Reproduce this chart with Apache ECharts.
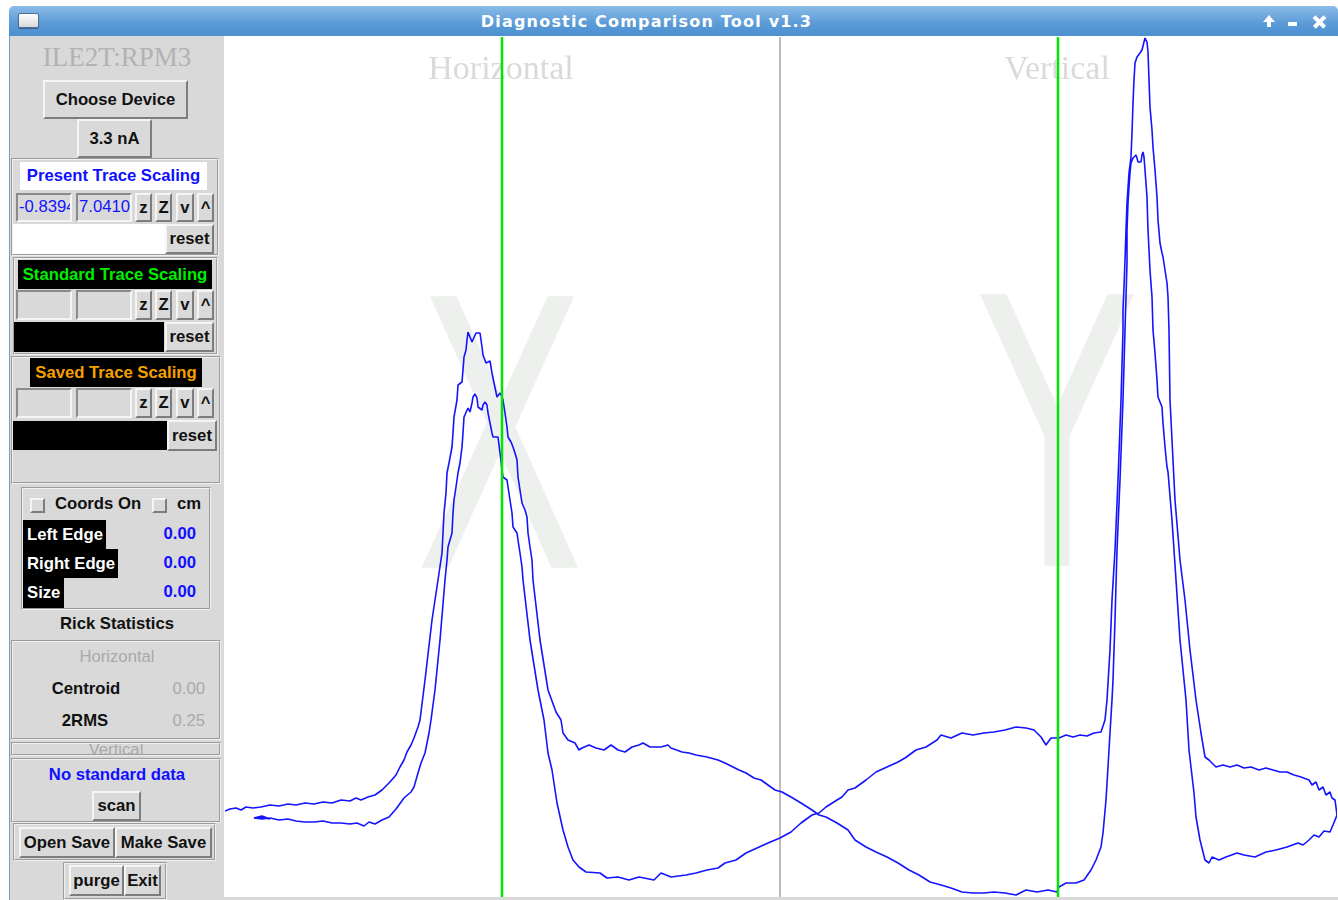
<!DOCTYPE html>
<html>
<head>
<meta charset="utf-8">
<title>Diagnostic Comparison Tool v1.3</title>
<script src="https://cdn.jsdelivr.net/npm/echarts@6/dist/echarts.min.js"></script>
<style>
  html, body { margin: 0; padding: 0; }
  body { width: 1338px; height: 900px; position: relative; overflow: hidden; background: #fff;
         font-family: "Liberation Sans", Arial, sans-serif; }
  div { box-sizing: border-box; }
  .abs, .b, .e, .t, .fr, .blk, .chk { position: absolute; }
  .titlebar { position: absolute; left: 9px; top: 6px; width: 1329px; height: 30px;
              background: linear-gradient(#8bbbe8, #5a9ad6 60%, #4c90d1); border-radius: 5px 5px 0 0; }
  .title { position: absolute; left: 9px; top: 6px; width: 1275px; height: 30px;
           text-align: center; color: #fff; font: bold 16px "DejaVu Sans", sans-serif; line-height: 32px;
           letter-spacing: 1.2px; }
  .panel { position: absolute; left: 10px; top: 36px; width: 214px; height: 864px; background: #d9d9d9; }
  .b { background: #d9d9d9; border: 2px solid; border-color: #f5f5f5 #7d7d7d #7d7d7d #f5f5f5;
       display: flex; align-items: center; justify-content: center;
       font-weight: bold; font-size: 16.7px; color: #111; white-space: nowrap; }
  .e { background: #d9d9d9; border: 2px solid; border-color: #8a8a8a #f5f5f5 #f5f5f5 #8a8a8a;
       overflow: hidden; white-space: nowrap; font-size: 16.7px; color: #1414ff; padding-left: 1px;
       line-height: 24px; }
  .t { display: flex; align-items: center; justify-content: center; font-weight: bold; font-size: 16.7px;
       color: #111; white-space: nowrap; }
  .fr { border: 2px groove #f0f0f0; }
  .blk { background: #000; }
  .chk { background: #d9d9d9; border: 2px solid; border-color: #f5f5f5 #7d7d7d #7d7d7d #f5f5f5; }
  #plot { position: absolute; left: 225px; top: 37px; width: 1112px; height: 860px; background: #fff; }
</style>
</head>
<body>
<div class="titlebar"></div>
<div class="title">Diagnostic Comparison Tool v1.3</div>
<div class="abs" style="left:18px;top:13px;width:21px;height:15px;border-radius:2px;border:1px solid #4f6f95;background:linear-gradient(#ffffff,#d8d8d8);box-shadow:0 1px 1px rgba(0,0,0,0.35)"></div>
<!-- window buttons -->
<div class="abs" style="left:1263px;top:15px;width:0;height:0;border-left:6px solid transparent;border-right:6px solid transparent;border-bottom:7px solid #fff"></div>
<div class="abs" style="left:1267px;top:21px;width:4px;height:6px;background:#fff"></div>
<div class="abs" style="left:1288px;top:22px;width:9px;height:4px;background:#fff"></div>
<div class="abs" style="left:1312px;top:20px;width:15px;height:3.5px;background:#fff;transform:rotate(45deg)"></div>
<div class="abs" style="left:1312px;top:20px;width:15px;height:3.5px;background:#fff;transform:rotate(-45deg)"></div>
<div class="abs" style="left:9px;top:36px;width:2px;height:864px;background:#6aa0d8"></div>

<div class="panel"></div>
<div class="t" style="left:10px;top:44px;width:214px;height:26px;font:27px 'Liberation Serif',serif;color:#b2b2b2">ILE2T:RPM3</div>
<div class="b" style="left:43px;top:80px;width:145px;height:39px">Choose Device</div>
<div class="b" style="left:77px;top:119px;width:75px;height:39px">3.3 nA</div>

<!-- present trace scaling -->
<div class="fr" style="left:11px;top:158px;width:208px;height:98px"></div>
<div class="t" style="left:20px;top:162px;width:187px;height:28px;background:#fff;color:#1010ff">Present Trace Scaling</div>
<div class="e" style="left:16px;top:193px;width:56px;height:29px">-0.8394</div>
<div class="e" style="left:76px;top:193px;width:56px;height:29px">7.04100</div>
<div class="b" style="left:135px;top:193px;width:17px;height:29px">z</div>
<div class="b" style="left:155px;top:193px;width:17px;height:29px">Z</div>
<div class="b" style="left:176px;top:193px;width:18px;height:29px">v</div>
<div class="b" style="left:197px;top:193px;width:17px;height:29px">^</div>
<div class="abs" style="left:13px;top:224px;width:152px;height:30px;background:#fff"></div>
<div class="b" style="left:165px;top:224px;width:49px;height:30px">reset</div>

<!-- standard trace scaling -->
<div class="fr" style="left:13px;top:257px;width:205px;height:98px"></div>
<div class="t" style="left:18px;top:260px;width:194px;height:29px;background:#000;color:#00ee00">Standard Trace Scaling</div>
<div class="e" style="left:16px;top:290px;width:56px;height:30px"></div>
<div class="e" style="left:76px;top:290px;width:56px;height:30px"></div>
<div class="b" style="left:135px;top:290px;width:17px;height:30px">z</div>
<div class="b" style="left:155px;top:290px;width:17px;height:30px">Z</div>
<div class="b" style="left:176px;top:290px;width:18px;height:30px">v</div>
<div class="b" style="left:197px;top:290px;width:17px;height:30px">^</div>
<div class="blk" style="left:14px;top:322px;width:150px;height:30px"></div>
<div class="b" style="left:165px;top:322px;width:49px;height:30px">reset</div>

<!-- saved trace scaling -->
<div class="fr" style="left:11px;top:356px;width:210px;height:128px"></div>
<div class="t" style="left:30px;top:358px;width:172px;height:29px;background:#000;color:#f5a000">Saved Trace Scaling</div>
<div class="e" style="left:16px;top:388px;width:56px;height:30px"></div>
<div class="e" style="left:76px;top:388px;width:56px;height:30px"></div>
<div class="b" style="left:135px;top:388px;width:17px;height:30px">z</div>
<div class="b" style="left:155px;top:388px;width:17px;height:30px">Z</div>
<div class="b" style="left:176px;top:388px;width:18px;height:30px">v</div>
<div class="b" style="left:197px;top:388px;width:17px;height:30px">^</div>
<div class="blk" style="left:13px;top:421px;width:154px;height:29px"></div>
<div class="b" style="left:167px;top:420px;width:50px;height:31px">reset</div>

<!-- coords -->
<div class="fr" style="left:21px;top:487px;width:190px;height:123px"></div>
<div class="chk" style="left:30px;top:498px;width:15px;height:15px"></div>
<div class="t" style="left:52px;top:492px;width:92px;height:24px">Coords On</div>
<div class="chk" style="left:152px;top:498px;width:15px;height:15px"></div>
<div class="t" style="left:174px;top:492px;width:30px;height:24px">cm</div>
<div class="t" style="left:23px;top:520px;width:83px;height:29px;background:#000;color:#fff;justify-content:flex-start;padding-left:4px">Left Edge</div>
<div class="t" style="left:23px;top:549px;width:95px;height:29px;background:#000;color:#fff;justify-content:flex-start;padding-left:4px">Right Edge</div>
<div class="t" style="left:23px;top:578px;width:41px;height:30px;background:#000;color:#fff;justify-content:flex-start;padding-left:4px">Size</div>
<div class="t" style="left:150px;top:522px;width:46px;height:24px;color:#1010ff;justify-content:flex-end">0.00</div>
<div class="t" style="left:150px;top:551px;width:46px;height:24px;color:#1010ff;justify-content:flex-end">0.00</div>
<div class="t" style="left:150px;top:580px;width:46px;height:24px;color:#1010ff;justify-content:flex-end">0.00</div>
<div class="t" style="left:10px;top:612px;width:214px;height:24px">Rick Statistics</div>

<!-- statistics -->
<div class="fr" style="left:11px;top:640px;width:210px;height:100px"></div>
<div class="t" style="left:10px;top:645px;width:214px;height:24px;font-weight:normal;color:#a9a9a9">Horizontal</div>
<div class="t" style="left:46px;top:677px;width:80px;height:24px">Centroid</div>
<div class="t" style="left:165px;top:677px;width:40px;height:24px;font-weight:normal;color:#a9a9a9;justify-content:flex-end">0.00</div>
<div class="t" style="left:46px;top:709px;width:78px;height:24px">2RMS</div>
<div class="t" style="left:165px;top:709px;width:40px;height:24px;font-weight:normal;color:#a9a9a9;justify-content:flex-end">0.25</div>
<div class="fr" style="left:11px;top:742px;width:210px;height:14px;overflow:hidden">
  <div style="position:absolute;left:0;top:-4px;width:206px;text-align:center;font-size:16.7px;color:#a9a9a9">Vertical</div>
</div>

<!-- standard data -->
<div class="fr" style="left:11px;top:758px;width:210px;height:65px"></div>
<div class="t" style="left:10px;top:763px;width:214px;height:24px;color:#1010ff">No standard data</div>
<div class="b" style="left:92px;top:791px;width:49px;height:30px">scan</div>
<div class="fr" style="left:13px;top:823px;width:203px;height:38px"></div>
<div class="b" style="left:19px;top:827px;width:96px;height:31px">Open Save</div>
<div class="b" style="left:115px;top:827px;width:97px;height:31px">Make Save</div>
<div class="fr" style="left:63px;top:862px;width:104px;height:38px"></div>
<div class="b" style="left:69px;top:865px;width:55px;height:31px">purge</div>
<div class="b" style="left:124px;top:865px;width:37px;height:31px">Exit</div>

<div class="abs" style="left:224px;top:897px;width:1114px;height:3px;background:#d9d9d9"></div>
<div id="plot"></div>

<script>
// scan trace, one continuous pass: position (x) vs signal (y)
// horizontal wire, outer baseline rising into the tall X peak
const hBaseA = [[0.0,0.86],[0.5,0.88],[1.1,0.89],[1.6,0.87],[2.1,0.90],[2.8,0.89],[3.6,0.90],[4.5,0.92],[5.4,0.91],[6.3,0.93],[7.1,0.92],[8.0,0.94],[8.9,0.93],[9.8,0.95],[10.7,0.94],[11.6,0.97],[12.5,0.96],[13.1,0.99],[13.6,0.97],[14.3,1.00],[15.0,1.02],[15.7,1.07],[16.4,1.14],[17.1,1.22],[17.5,1.30],[17.9,1.37],[18.2,1.45],[18.6,1.52],[18.9,1.59],[19.3,1.70],[19.5,1.77]];
const hPeakA = [[20.0,2.17],[20.7,2.77],[21.3,3.17],[21.7,3.44],[21.8,3.64],[21.9,3.84],[22.1,4.04],[22.2,4.24],[22.4,4.34],[22.7,4.50],[22.8,4.64],[22.9,4.80],[23.2,4.97],[23.3,5.12],[23.7,5.15],[23.8,5.27],[23.9,5.40],[24.1,5.47],[24.2,5.57],[24.3,5.65],[24.5,5.64],[24.7,5.55],[24.8,5.57],[25.1,5.64],[25.3,5.66],[25.5,5.64],[25.7,5.50],[25.8,5.42],[26.1,5.34],[26.3,5.35],[26.5,5.36],[26.7,5.24],[26.9,5.14],[27.2,5.00],[27.3,5.02],[27.5,5.04],[27.7,5.00],[27.8,4.97],[28.0,4.84],[28.2,4.70],[28.3,4.60],[28.6,4.55],[28.8,4.50],[29.0,4.44],[29.2,4.37],[29.3,4.20],[29.5,4.07],[29.7,3.94],[30.0,3.87],[30.2,3.80],[30.3,3.64],[30.5,3.50],[30.7,3.37],[30.8,3.17],[31.5,2.57],[32.3,2.07],[33.1,1.85],[33.6,1.77],[33.8,1.64],[34.3,1.57]];
const midA = [[35.0,1.54],[35.4,1.47],[35.7,1.49],[36.4,1.52],[37.1,1.49],[37.9,1.47],[38.6,1.52],[39.3,1.47],[40.0,1.45],[40.7,1.50],[41.4,1.52],[41.8,1.54],[42.5,1.50],[43.6,1.50],[44.3,1.52],[44.6,1.49],[45.7,1.45],[46.4,1.44],[47.1,1.42],[48.2,1.40],[49.3,1.37],[50.0,1.34],[51.4,1.27],[52.1,1.24],[52.9,1.19],[53.6,1.17],[54.3,1.12],[55.0,1.07],[55.7,1.05],[56.6,1.00],[57.6,0.94],[58.7,0.87],[59.4,0.82],[60.1,0.80],[61.2,0.74],[62.3,0.67],[63.0,0.57],[64.1,0.50],[65.1,0.45],[66.2,0.40],[67.3,0.34],[68.4,0.27],[69.4,0.22],[70.5,0.15],[71.6,0.12],[72.6,0.09],[73.7,0.05],[74.8,0.04],[75.9,0.04],[76.9,0.05],[78.0,0.04],[79.1,0.02],[80.1,0.07],[81.2,0.05],[82.3,0.07],[83.2,0.05],[83.4,0.10],[84.1,0.14],[85.1,0.14],[85.9,0.17],[86.6,0.27],[87.1,0.37],[87.6,0.50],[87.8,0.64],[88.1,0.97],[88.3,1.30],[88.5,1.64],[88.7,1.97]];
// vertical wire, short Y peak
const vPeakA = [[88.8,2.17],[89.0,2.77],[89.2,3.47],[89.5,4.17],[89.8,4.97],[90.0,5.67],[90.1,6.00],[90.2,6.34],[90.2,6.67],[90.3,6.94],[90.4,7.10],[90.5,7.24],[90.6,7.34],[90.8,7.39],[90.9,7.40],[91.1,7.42],[91.2,7.39],[91.3,7.35],[91.4,7.34],[91.6,7.35],[91.7,7.42],[91.8,7.45],[91.9,7.40],[92.0,7.27],[92.2,7.00],[92.3,6.67],[92.5,6.27],[92.7,6.00],[92.8,5.67],[93.0,5.44],[93.2,5.17],[93.3,5.00],[93.7,4.90],[93.8,4.74],[94.0,4.50],[94.2,4.30],[94.3,4.25],[94.7,3.77],[95.1,3.17],[95.5,2.57],[96.1,1.97],[96.4,1.47],[96.9,1.04],[97.1,0.80],[97.5,0.57],[98.0,0.37]];
// turn-around at the end of travel
const endLoop = [[98.4,0.34],[98.7,0.40],[99.4,0.37],[100.1,0.40],[101.2,0.44],[101.9,0.42],[103.0,0.40],[104.1,0.45],[105.1,0.47],[106.2,0.50],[107.3,0.54],[107.8,0.52],[108.4,0.57],[108.9,0.62],[109.4,0.60],[109.9,0.66],[110.5,0.65],[110.8,0.72],[111.0,0.70],[111.2,0.82],[111.0,0.97],[110.7,0.99],[110.5,1.05],[110.1,1.02],[109.8,1.10],[109.4,1.07],[109.1,1.15],[108.7,1.12],[108.4,1.17],[107.6,1.20],[106.9,1.22],[106.2,1.25],[105.5,1.25],[104.8,1.27],[104.1,1.29],[103.4,1.27],[102.6,1.30],[101.9,1.29],[101.2,1.32],[100.5,1.30],[99.8,1.32],[99.1,1.30],[98.7,1.34],[98.4,1.37],[98.0,1.40],[97.6,1.64],[97.1,1.97]];
// return pass, tall Y peak
const vPeakB = [[96.5,2.47],[96.0,2.97],[95.5,3.37],[95.0,3.97],[94.5,4.97],[94.4,5.67],[94.3,6.00],[94.2,6.14],[94.0,6.27],[93.8,6.40],[93.7,6.44],[93.5,6.54],[93.3,6.77],[93.2,7.00],[93.0,7.27],[92.8,7.50],[92.7,7.67],[92.5,7.90],[92.4,8.17],[92.3,8.45],[92.2,8.55],[92.0,8.59],[91.8,8.57],[91.7,8.47],[91.5,8.44],[91.3,8.42],[91.2,8.40],[91.0,8.34],[90.9,8.17],[90.8,7.94],[90.7,7.64],[90.6,7.40],[90.4,7.24],[90.2,6.94],[90.1,6.67],[90.0,6.37],[89.9,6.10],[89.8,5.87],[89.8,5.67],[89.6,4.97],[89.3,4.17],[89.0,3.47],[88.7,2.97],[88.5,2.47],[88.2,1.97]];
const midB = [[88.0,1.77],[87.6,1.65],[86.9,1.64],[86.2,1.61],[85.5,1.62],[84.8,1.60],[84.1,1.62],[83.4,1.59],[82.6,1.59],[82.1,1.52],[81.6,1.60],[80.9,1.67],[80.1,1.69],[79.1,1.70],[78.0,1.67],[76.9,1.65],[75.9,1.64],[74.8,1.62],[73.7,1.64],[72.6,1.59],[71.6,1.62],[71.2,1.57],[70.1,1.50],[69.1,1.47],[68.0,1.39],[67.3,1.35],[66.2,1.30],[65.1,1.25],[64.1,1.17],[63.0,1.09],[62.3,1.07],[61.7,1.00],[61.2,0.97],[60.1,0.90],[59.4,0.84],[58.7,0.82],[57.6,0.74],[56.6,0.65],[55.5,0.59],[54.3,0.54],[53.2,0.49],[52.1,0.44],[51.1,0.37],[50.0,0.34],[49.3,0.29],[48.2,0.27],[47.1,0.24],[46.1,0.22],[44.6,0.20],[43.6,0.24],[42.9,0.17],[41.4,0.20],[40.4,0.17],[39.3,0.20],[38.2,0.19],[37.5,0.24],[36.1,0.25],[35.4,0.30],[34.8,0.37],[34.3,0.50],[33.8,0.67],[33.2,0.94],[32.7,1.27],[32.3,1.44],[31.9,1.77]];
// return pass, short X peak
const hPeakB = [[31.3,2.07],[30.5,2.57],[29.8,3.17],[29.7,3.30],[29.5,3.44],[29.3,3.57],[29.2,3.64],[28.8,3.70],[28.7,3.84],[28.5,3.97],[28.3,4.10],[28.2,4.17],[27.8,4.20],[27.7,4.27],[27.5,4.44],[27.3,4.60],[27.1,4.62],[26.8,4.60],[26.7,4.64],[26.5,4.74],[26.3,4.84],[26.2,4.92],[26.0,4.95],[25.8,4.92],[25.7,4.87],[25.5,4.85],[25.3,4.90],[25.2,4.99],[25.0,5.03],[24.8,5.00],[24.7,4.94],[24.5,4.85],[24.3,4.89],[24.1,4.87],[23.9,4.80],[23.8,4.64],[23.7,4.50],[23.5,4.34],[23.3,4.24],[23.1,4.10],[22.9,3.97],[22.8,3.84],[22.7,3.64],[22.3,3.50],[22.2,3.37],[22.0,3.17],[21.5,2.57],[21.0,2.07],[20.6,1.77]];
const hBaseB = [[20.4,1.64],[20.0,1.44],[19.6,1.34],[19.3,1.24],[18.9,1.10],[18.6,1.05],[17.9,0.99],[17.1,0.88],[16.4,0.80],[15.7,0.77],[15.0,0.73],[14.4,0.75],[13.9,0.71],[13.2,0.74],[12.5,0.73],[11.6,0.74],[10.7,0.74],[9.8,0.76],[8.9,0.75],[8.0,0.75],[7.1,0.76],[6.3,0.78],[5.4,0.77],[4.5,0.79],[3.7,0.78],[2.9,0.79],[3.7,0.81],[4.5,0.78],[3.3,0.80]];

// cursors and the horizontal/vertical divider (position units)
const cursorPos = [27.7, 83.3];
const dividerPos = 55.5;
const xRange = [0, 111.2];
const yRange = [0, 8.6];

const trace = [].concat(hBaseA, hPeakA, midA, vPeakA, endLoop, vPeakB, midB, hPeakB, hBaseB);

function vline(x) { return [[x, yRange[0]], [x, yRange[1]]]; }

const chart = echarts.init(document.getElementById('plot'));
chart.setOption({
  animation: false,
  grid: { left: 0, right: 0, top: 0, bottom: 0 },
  xAxis: { type: 'value', min: xRange[0], max: xRange[1], show: false },
  yAxis: { type: 'value', min: yRange[0], max: yRange[1], show: false },
  graphic: [
    { type: 'text', x: 275, y: 434, scaleX: 0.66, scaleY: 0.98, silent: true, z: 0,
      style: { text: 'X', font: '380px "DejaVu Sans"', fill: '#edf0ed', align: 'center', verticalAlign: 'middle' } },
    { type: 'text', x: 832, y: 432, scaleX: 0.66, scaleY: 0.98, silent: true, z: 0,
      style: { text: 'Y', font: '380px "DejaVu Sans"', fill: '#edf0ed', align: 'center', verticalAlign: 'middle' } },
    { type: 'text', x: 276, y: 33, silent: true, z: 0,
      style: { text: 'Horizontal', font: '34px "Liberation Serif"', fill: '#dadada', align: 'center', verticalAlign: 'middle' } },
    { type: 'text', x: 832, y: 33, silent: true, z: 0,
      style: { text: 'Vertical', font: '34px "Liberation Serif"', fill: '#dadada', align: 'center', verticalAlign: 'middle' } }
  ],
  series: [
    {
      type: 'line', data: vline(dividerPos), showSymbol: false, silent: true, z: 1,
      lineStyle: { color: '#bdbdbd', width: 2 }
    },
    {
      type: 'line', data: trace, showSymbol: false, silent: true, z: 2,
      lineStyle: { color: '#1414ff', width: 1.6 }
    },
    {
      type: 'line', data: vline(cursorPos[0]), showSymbol: false, silent: true, z: 3,
      lineStyle: { color: '#00e600', width: 2.5 }
    },
    {
      type: 'line', data: vline(cursorPos[1]), showSymbol: false, silent: true, z: 3,
      lineStyle: { color: '#00e600', width: 2.5 }
    }
  ]
});
</script>
</body>
</html>
